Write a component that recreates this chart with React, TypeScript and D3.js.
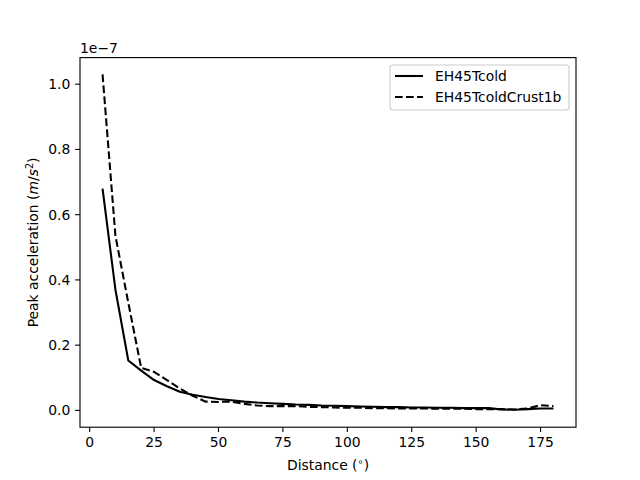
import React from "react";
import * as d3 from "d3";

const distances = [5,10,15,20,25,30,35,40,45,50,55,60,65,70,75,80,85,90,95,100,105,110,115,120,125,130,135,140,145,150,155,160,165,170,175,180];
const tcold = [0.68,0.37,0.153,0.122,0.093,0.074,0.057,0.048,0.041,0.035,0.031,0.027,0.024,0.022,0.020,0.018,0.017,0.015,0.014,0.013,0.012,0.011,0.010,0.010,0.009,0.009,0.008,0.008,0.007,0.007,0.007,0.003,0.002,0.004,0.006,0.006];
const tcoldCrust = [1.03,0.535,0.33,0.13,0.118,0.093,0.067,0.045,0.027,0.026,0.027,0.020,0.015,0.013,0.013,0.013,0.011,0.010,0.009,0.008,0.008,0.007,0.007,0.006,0.006,0.006,0.005,0.005,0.005,0.004,0.004,0.004,0.003,0.006,0.016,0.013];
const xTicks = [0,25,50,75,100,125,150,175];
const yTicks = [0.0,0.2,0.4,0.6,0.8,1.0];
const seriesNames = ["EH45Tcold", "EH45TcoldCrust1b"];

const W = 640, H = 480;
const L = 80, R = 576, T = 57.6, B = 427.2;
const FONT = "DejaVu Sans";
const FS = 13.9;

export default function App() {
  const x = d3.scaleLinear().domain([-3.75, 188.75]).range([L, R]);
  const y = d3.scaleLinear().domain([-0.0515, 1.0815]).range([B, T]);
  const line = d3.line<number>().x((_, i) => x(distances[i])).y((d) => y(d));
  const tick = 4.86;
  return (
    <svg width={W} height={H} style={{ display: "block", position: "absolute", left: 0, top: 0 }} fontFamily={FONT}>
      <rect x={0} y={0} width={W} height={H} fill="white" />
      <path d={line(tcold) || ""} fill="none" stroke="black" strokeWidth={2.08} strokeLinejoin="round" />
      <path d={line(tcoldCrust) || ""} fill="none" stroke="black" strokeWidth={2.08} strokeDasharray="7.7,3.33" />
      <rect x={L} y={T} width={R - L} height={B - T} fill="none" stroke="black" strokeWidth={1.11} />
      {xTicks.map((t) => (
        <g key={"x" + t}>
          <line x1={x(t)} x2={x(t)} y1={B} y2={B + tick} stroke="black" strokeWidth={1.11} />
          <text x={x(t)} y={B + tick + 4.86} dy="0.76em" textAnchor="middle" fontSize={FS}>{t}</text>
        </g>
      ))}
      {yTicks.map((t) => (
        <g key={"y" + t}>
          <line x1={L - tick} x2={L} y1={y(t)} y2={y(t)} stroke="black" strokeWidth={1.11} />
          <text x={L - tick - 4.86} y={y(t)} dy="0.36em" textAnchor="end" fontSize={FS}>{t.toFixed(1)}</text>
        </g>
      ))}
      <text x={L} y={T - 5} fontSize={FS}>1e−7</text>
      <text x={(L + R) / 2} y={470} textAnchor="middle" fontSize={FS}>
        Distance (<tspan dy={-5} fontSize={FS * 0.7}>∘</tspan><tspan dy={5}>)</tspan>
      </text>
      <text transform={`translate(38,${(T + B) / 2}) rotate(-90)`} textAnchor="middle" fontSize={FS}>
        Peak acceleration (<tspan fontStyle="italic">m</tspan><tspan>/</tspan><tspan fontStyle="italic">s</tspan><tspan dy={-5} fontSize={FS * 0.7}>2</tspan><tspan dy={5}>)</tspan>
      </text>
      <g>
        <rect x={390} y={65} width={179} height={45} rx={3} fill="white" fillOpacity={0.8} stroke="#cccccc" strokeWidth={1.11} />
        <line x1={395} x2={423} y1={76} y2={76} stroke="black" strokeWidth={2.08} />
        <text x={435} y={76} dy="0.36em" fontSize={FS}>{seriesNames[0]}</text>
        <line x1={395} x2={423} y1={97} y2={97} stroke="black" strokeWidth={2.08} strokeDasharray="7.7,3.33" />
        <text x={435} y={97} dy="0.36em" fontSize={FS}>{seriesNames[1]}</text>
      </g>
    </svg>
  );
}
